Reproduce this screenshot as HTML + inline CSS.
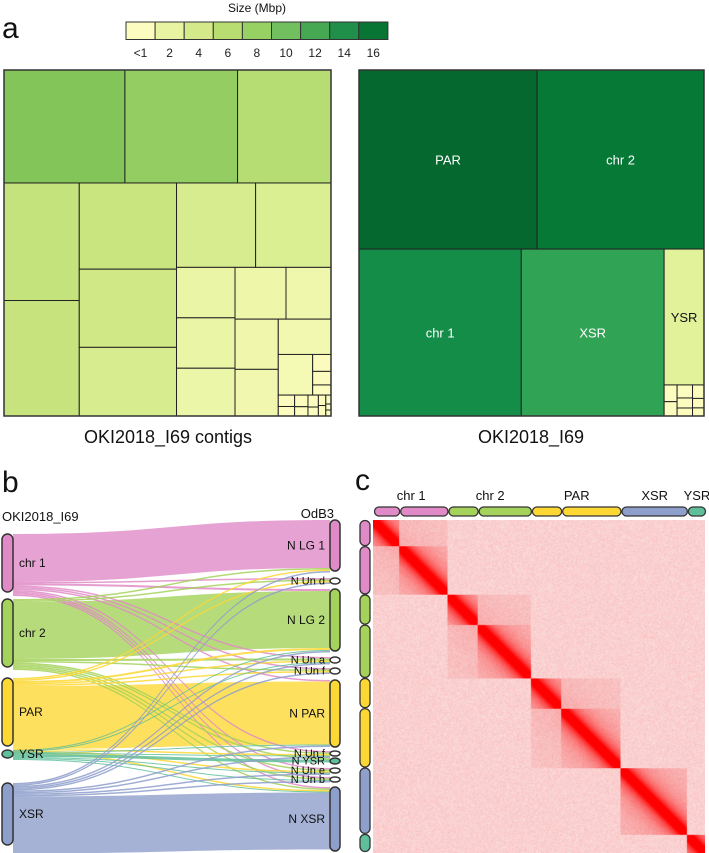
<!DOCTYPE html>
<html><head><meta charset="utf-8"><style>
html,body{margin:0;padding:0;background:#fff;width:709px;height:853px;overflow:hidden}
#root{position:relative;width:709px;height:853px;font-family:"Liberation Sans",sans-serif}
svg{position:absolute;left:0;top:0}
#hic{position:absolute;left:373px;top:520px;width:332px;height:333px}
</style></head><body>
<div id="root">
<canvas id="hic" width="330" height="330"></canvas>
<svg id="fig" width="709" height="853" viewBox="0 0 709 853"></svg>
</div>
<script>
// ---------- data ----------
const legendLabels = ["<1","2","4","6","8","10","12","14","16"];
const legendColors = ["#fdfcc0","#e9f4a2","#d3e98a","#b8de72","#97d063","#72bf5f","#47a854","#1f8f49","#087535"];
const colorStopValues = [0,2,3.5,5.5,7,8.8,12,15.4,17.5,19.3,20.6];
const colorStopColors = ["#fdfcc0","#eaf5a5","#e1f29a","#c8e47e","#b3dc72","#84c55a","#5fb65c","#31a354","#138d48","#077936","#05682f"];
const contigTree = ["v",
  ["h",{v:8.8},{v:8.2},{v:6.8}],
  ["h",
    ["v",{v:5.7},{v:5.6}],
    ["v",{v:5.4},{v:4.9},{v:4.3}],
    ["v",
      ["h",{v:4.3},{v:4.1}],
      ["h",
        ["v",{v:1.9},{v:1.9},{v:1.8}],
        ["v",
          ["h",{v:1.7},{v:1.5}],
          ["h",
            ["v",{v:1.4},{v:1.3}],
            ["v",{v:1.2},["h",{v:0.9},["v",{v:0.2},{v:0.16},{v:0.12}]],
              ["h",["v",{v:0.12},{v:0.1}],["v",{v:0.1},{v:0.08}],["v",{v:0.08},{v:0.06}],["v",{v:0.05},{v:0.05}],["v",{v:0.03},{v:0.02},{v:0.02}]]]
          ]
        ]
      ]
    ]
  ]
];
const scaffoldTree = ["v",
  ["h",{v:20.6,label:"PAR"},{v:19.3,label:"chr 2"}],
  ["h",{v:17.5,label:"chr 1"},{v:15.4,label:"XSR"},
    ["v",{v:3.5,label:"YSR",dark:true},
      ["h",["v",{v:0.14},{v:0.12}],["v",{v:0.13},{v:0.1},{v:0.08}],["v",{v:0.1},{v:0.07},{v:0.06}]]]]
];
const leftNames = ["chr 1","chr 2","PAR","YSR","XSR"];
const leftSizes = [58,68,68,8,62];
const leftGaps = [7,11,4,25];
const leftColors = ["#e08bc7","#a4d25a","#fdd835","#5fbf9b","#8e9fcc"];
const rightNames = ["N LG 1","N Un d","N LG 2","N Un a","N Un f","N PAR","N Un f","N YSR","N Un e","N Un b","N XSR"];
const rightSizes = [51,6,62,6,6,67,5,6,5,5,64];
const rightGaps = [7,5,6,5,6,4,2,4,4,5];
const rightColorIdx = [0,-1,1,-1,-1,2,-1,3,-1,-1,4];
const linkSrc = [0,0,0,0,0,0,0,0,0,0, 1,1,1,1,1,1,1,1,1,1, 2,2,2,2,2,2,2,2,2, 3,3,3,3,3,3,3,3, 4,4,4,4,4,4,4,4,4,4];
const linkTgt = [0,1,2,3,4,5,6,8,9,10, 0,1,2,3,4,6,7,8,9,10, 0,1,2,3,4,5,6,8,10, 2,3,5,6,7,8,9,10, 0,1,2,3,4,5,6,8,9,10];
const linkW   = [48,1.5,2,1.5,1.5,1.5,1.5,1.5,1.5,1.5, 1.5,1.5,57,2,1.5,1.5,1.5,1.5,1.5,1.5, 1.5,1.5,2,1.5,1.5,63,1.5,1.5,1.5, 1,1,1,1,3,1,1,1, 1.5,1.5,1.5,1.5,1.5,1.5,1.5,1.5,1.5,57];
const hicChroms = ["chr 1","chr 2","PAR","XSR","YSR"];
const hicSegs = [[26,48],[30,53],[30,59],[66],[18]];
const hicColors = ["#e08bc7","#a4d25a","#fdd835","#8e9fcc","#5fbf9b"];

// ---------- helpers ----------
const NS="http://www.w3.org/2000/svg";
const svg=document.getElementById('fig');
function el(tag,attrs,parent){const e=document.createElementNS(NS,tag);for(const k in attrs)e.setAttribute(k,attrs[k]);(parent||svg).appendChild(e);return e;}
function txt(s,x,y,size,anchor,fill,parent){const t=el('text',{x:x,y:y,'font-size':size,'text-anchor':anchor||'start',fill:fill||'#111','font-family':'Liberation Sans, sans-serif'},parent);t.textContent=s;return t;}
function hex(c){return [parseInt(c.substr(1,2),16),parseInt(c.substr(3,2),16),parseInt(c.substr(5,2),16)];}
function valColor(v){
  if(v<=colorStopValues[0])return colorStopColors[0];
  for(let i=1;i<colorStopValues.length;i++){if(v<=colorStopValues[i]){const t=(v-colorStopValues[i-1])/(colorStopValues[i]-colorStopValues[i-1]);const a=hex(colorStopColors[i-1]),b=hex(colorStopColors[i]);return 'rgb('+a.map((x,j)=>Math.round(x+(b[j]-x)*t)).join(',')+')';}}
  return colorStopColors[colorStopColors.length-1];
}

// ---------- panel a ----------
txt("a",2,38,30,'start','#111');
const lg=el('g',{});
txt("Size (Mbp)",257,12,12,'middle','#111',lg);
legendColors.forEach((c,i)=>{
  const r=el('rect',{x:126+i*29.1,y:22,width:29.1,height:17.5,fill:c,stroke:'#333','stroke-width':1},lg);
  
  const t=txt(legendLabels[i],126+i*29.1+14.5,57,12,'middle','#222',lg);
  
});
function sum(n){return Array.isArray(n)?n.slice(1).reduce((a,c)=>a+sum(c),0):n.v;}
function layout(n,x,y,w,h,g,name){
  if(!Array.isArray(n)){
    const r=el('rect',{x:x,y:y,width:w,height:h,fill:valColor(n.v),stroke:'#222','stroke-width':1},g);
    
    if(n.label){const t=txt(n.label,x+w/2,y+h/2+5,13,'middle',n.dark?'#111':'#fff',g);}
    return;
  }
  const tot=sum(n);let off=0;
  n.slice(1).forEach(c=>{const f=sum(c)/tot;
    if(n[0]==='h'){layout(c,x+off*w,y,f*w,h,g,name);}else{layout(c,x,y+off*h,w,f*h,g,name);}off+=f;});
}
const g1=el('g',{});
layout(contigTree,4,70,327,346,g1,'contig-tile');
el('rect',{x:4,y:70,width:327,height:346,fill:'none',stroke:'#333','stroke-width':1.5},g1);
const g2=el('g',{});
layout(scaffoldTree,359,70,345,346,g2,'scaffold-tile');
el('rect',{x:359,y:70,width:345,height:346,fill:'none',stroke:'#333','stroke-width':1.5},g2);
txt("OKI2018_I69 contigs",168,443,18,'middle','#111');
txt("OKI2018_I69",531,443,18,'middle','#111');

// ---------- panel b ----------
txt("b",2,492,30,'start','#111');
txt("OKI2018_I69",2,521,13,'start','#111');
txt("OdB3",334,518,13,'end','#111');
function stack(start,sizes,gaps){const out=[];let y=start;sizes.forEach((s,i)=>{out.push([y,y+s]);y+=s+(gaps[i]||0);});return out;}
const L=stack(534,leftSizes,leftGaps), R=stack(520,rightSizes,rightGaps);
const sb=el('g',{});
const order=linkSrc.map((_,i)=>i);
const srcOff=new Array(L.length).fill(0), tgtOff=new Array(R.length).fill(0);
const sy=[],ty=[];
order.slice().sort((a,b)=>linkSrc[a]-linkSrc[b]||linkTgt[a]-linkTgt[b]).forEach(i=>{sy[i]=L[linkSrc[i]][0]+srcOff[linkSrc[i]];srcOff[linkSrc[i]]+=linkW[i];});
order.slice().sort((a,b)=>linkTgt[a]-linkTgt[b]||linkSrc[a]-linkSrc[b]).forEach(i=>{ty[i]=R[linkTgt[i]][0]+tgtOff[linkTgt[i]];tgtOff[linkTgt[i]]+=linkW[i];});
const x0=13,x1=330,xm=(x0+x1)/2;
const thick=order.filter(i=>linkW[i]>3), thin=order.filter(i=>linkW[i]<=3);
thick.concat(thin).forEach(i=>{
  const a=sy[i],b=ty[i],w=linkW[i];
  const d=`M${x0},${a} C${xm},${a} ${xm},${b} ${x1},${b} L${x1},${b+w} C${xm},${b+w} ${xm},${a+w} ${x0},${a+w} Z`;
  const p=el('path',{d:d,fill:leftColors[linkSrc[i]],opacity:w>3?0.8:0.85},sb);
  
});
L.forEach((r,i)=>{
  const b=el('rect',{x:2,y:r[0],width:11,height:r[1]-r[0],rx:5.5,fill:leftColors[i],stroke:'#333','stroke-width':1.5},sb);
  
  const t=txt(leftNames[i],19,(r[0]+r[1])/2+4,12,'start','#111',sb);
});
R.forEach((r,i)=>{
  const ci=rightColorIdx[i];
  const b=el('rect',{x:330,y:r[0],width:10,height:r[1]-r[0],rx:5,ry:Math.min(5,(r[1]-r[0])/2),fill:ci<0?'#fff':leftColors[ci],stroke:'#333','stroke-width':1.5},sb);
  
  const big=r[1]-r[0]>20;
  const t=txt(rightNames[i],325,(r[0]+r[1])/2+(big?4:3.5),big?12:11,'end','#111',sb);
});

// ---------- panel c ----------
txt("c",355,490,30,'start','#111');
const N=hicSegs.flat().reduce((a,b)=>a+b,0);
const sc=332/N, ox=374, oy=520;
const hc=el('g',{});
let pos=0;const chrOf=[],segOf=[];let segId=0;
hicSegs.forEach((segs,ci)=>{
  const cs=pos;
  segs.forEach(s=>{
    const top=el('rect',{x:ox+pos*sc+0.5,y:507,width:s*sc-1,height:9,rx:4.5,fill:hicColors[ci],stroke:'#333','stroke-width':1.3},hc);
    
    const lf=el('rect',{x:360,y:oy+pos*sc+0.5,width:10,height:s*sc-1,rx:5,fill:hicColors[ci],stroke:'#333','stroke-width':1.3},hc);
    
    for(let k=0;k<s;k++){chrOf.push(ci);segOf.push(segId);}
    pos+=s;segId++;
  });
  const t=txt(hicChroms[ci],ox+(cs+pos)/2*sc,500,13,'middle','#111',hc);
});
const cv=document.getElementById('hic');cv.width=N;cv.height=N;
const ctx=cv.getContext('2d');const img=ctx.createImageData(N,N);
function h(i,j){let x=(i*374761393+j*668265263)|0;x=(x^(x>>>13))*1274126177;x=x^(x>>>16);return ((x>>>0)%1000)/1000;}
for(let i=0;i<N;i++)for(let j=0;j<N;j++){
  let base,v=0;
  const d=Math.abs(i-j);
  if(segOf[i]===segOf[j]){base=[248,190,190];v=Math.min(1,1.3*Math.exp(-d/9))+0.35*Math.exp(-d/35);v=Math.min(1,v);}
  else if(chrOf[i]===chrOf[j]){base=[248,198,198];v=0.15*Math.exp(-d/40);}
  else base=[250,208,208];
  const n=(h(i,j)-0.5)*26;
  const g=Math.max(0,Math.min(255,base[1]*(1-v)+n*(1-v))), b=Math.max(0,Math.min(255,base[2]*(1-v)+n*(1-v)));
  const k=(i*N+j)*4;img.data[k]=255-(1-v)*(255-base[0]);img.data[k+1]=g;img.data[k+2]=b;img.data[k+3]=255;
}
ctx.putImageData(img,0,0);
</script>
</body></html>
